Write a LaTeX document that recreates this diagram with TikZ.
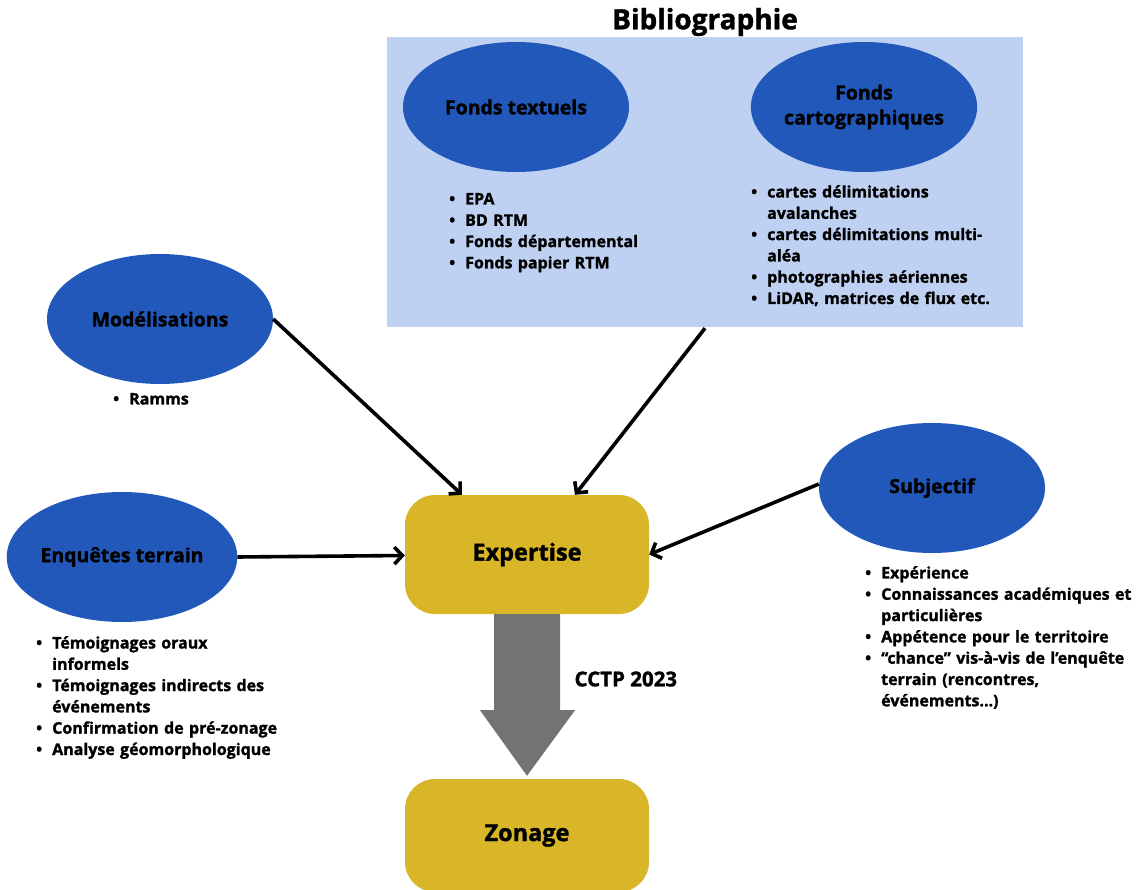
\documentclass[tikz,border=0pt]{standalone}
\usepackage{fontspec}
\setmainfont{Open Sans}[BoldFeatures={FakeBold=1.4}]
\usetikzlibrary{arrows.meta,calc,shapes.geometric}
\definecolor{bleuclair}{RGB}{191,209,242}
\definecolor{bleu}{RGB}{34,88,186}
\definecolor{ocre}{RGB}{216,182,39}
\definecolor{grisfleche}{RGB}{115,115,115}
\newcommand\puce{\par\noindent\hangindent=16pt\hangafter=1\makebox[16pt][l]{\textbullet}}
\tikzset{
	bulle/.style={ellipse, fill=bleu, minimum width=226, minimum height=130, inner sep=0, align=center, font=\bfseries\fontsize{19.5}{25}\selectfont},
	cadre/.style={rounded corners=30, fill=ocre, minimum width=244, minimum height=119, font=\bfseries\fontsize{23.5}{28}\selectfont},
	liste/.style={anchor=north west, inner sep=0, text width=290, align=left, font=\bfseries\fontsize{16}{21.3}\selectfont},
	fleche/.style={line width=3.6, -{Straight Barb[length=8,width=17]}}
}
\begin{document}
\begin{tikzpicture}[x=1pt, y=-1pt]
		%%%%% START %%%%%
		\useasboundingbox (0, 0) rectangle (1141, 890);
		
		% bibliographie
		\node[font=\bfseries\fontsize{28}{32}\selectfont] (titre) at (705, 22) {Bibliographie};
		\node[fill=bleuclair, minimum width=636, minimum height=290, inner sep=0] (bibliographie) at (705, 182) {};
		\node[bulle] (textuels) at (516, 107) {Fonds textuels};
		\node[bulle] (carto) at (864, 107) {Fonds\\cartographiques};
		\node[liste] (listetextuels) at (449, 183) {\puce EPA \puce BD RTM \puce Fonds départemental \puce Fonds papier RTM\par};
		\node[liste] (listecarto) at (751, 176) {\puce cartes délimitations\newline avalanches \puce cartes délimitations multi-\newline aléa \puce photographies aériennes \puce LiDAR, matrices de flux etc.\par};
		
		% sources autour
		\node[bulle] (modelisations) at (160, 319) {Modélisations};
		\node[liste] (listemodel) at (113, 383) {\puce Ramms\par};
		\node[bulle] (enquetes) at (122, 557) {Enquêtes terrain};
		\node[liste] (listeenquetes) at (36, 627) {\puce Témoignages oraux\newline informels \puce Témoignages indirects des\newline événements \puce Confirmation de pré-zonage \puce Analyse géomorphologique\par};
		\node[bulle] (subjectif) at (932, 488) {Subjectif};
		\node[liste] (listesubjectif) at (865, 557) {\puce Expérience \puce Connaissances académiques et\newline particulières \puce Appétence pour le territoire \puce “chance” vis-à-vis de l’enquête\newline terrain (rencontres,\newline événements…)\par};
		
		% expertise et zonage
		\node[cadre] (expertise) at (527, 554.5) {Expertise};
		\node[cadre, minimum height=113] (zonage) at (527, 835.5) {Zonage};
		\fill[grisfleche] ($(expertise.south)+(-33, 0)$) -- ($(expertise.south)+(33, 0)$) -- ($(expertise.south)+(33, 96)$) -- ($(expertise.south)+(48, 96)$) -- ($(zonage.north)+(0, -3)$) -- ($(expertise.south)+(-47, 96)$) -- ($(expertise.south)+(-33, 96)$) -- cycle;
		\node[anchor=west, font=\bfseries\fontsize{20.5}{24}\selectfont] (cctp) at (571, 679) {CCTP 2023};
		
		% fleches
		\draw[fleche] (modelisations.east) -- ([xshift=-65]expertise.north);
		\draw[fleche] ([yshift=-1]bibliographie.south) -- ([xshift=48]expertise.north);
		\draw[fleche] (enquetes.east) -- ([yshift=-1]expertise.west);
		\draw[fleche] ([yshift=4]subjectif.west) -- (expertise.east);
		
		%%%%% END %%%%%
\end{tikzpicture}
\end{document}
